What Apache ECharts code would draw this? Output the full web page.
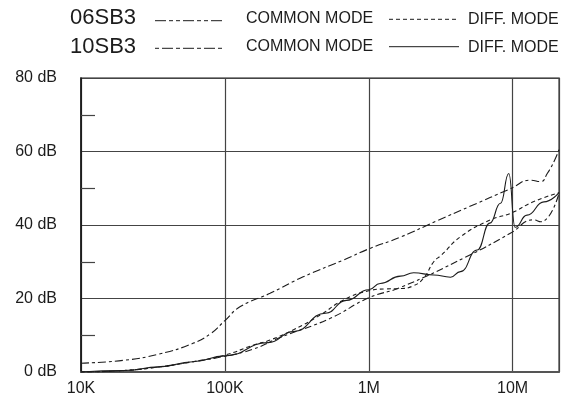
<!DOCTYPE html>
<html><head><meta charset="utf-8">
<script src="https://cdn.jsdelivr.net/npm/echarts@6/dist/echarts.min.js"></script>
<style>html,body{margin:0;padding:0;background:#fff}#c{width:575px;height:400px}</style>
</head><body><div id="c"></div>
<script>
// ---- tick labels ----
const xTickValues = [1e4, 1e5, 1e6, 1e7];
const xTickLabels = ['10K', '100K', '1M', '10M'];
const yMin = 0, yMax = 80, yStep = 20;

// ---- 06SB3 common mode ----
const cm06Freq = [1e4, 2e4, 3.5e4, 6e4, 8e4, 1e5, 1.28e5, 2.06e5, 3.5e5, 6.7e5, 1e6, 1.66e6, 3e6, 5e6, 9.7e6, 1.33e7, 1.57e7, 1.74e7, 1.95e7, 2.1e7];
const cm06dB   = [2.4, 3.2, 4.9, 7.8, 10.5, 14.0, 17.8, 21.4, 25.9, 30.5, 33.5, 36.7, 41.2, 45.0, 49.9, 52.2, 51.8, 54.0, 57.5, 60.5];

// ---- 06SB3 differential mode ----
const dm06Freq = [1e4, 2e4, 3.5e4, 6e4, 1e5, 1.57e5, 2.06e5, 3e5, 4.6e5, 6.67e5, 1e6, 1.3e6, 1.66e6, 2e6, 2.4e6, 2.83e6, 3.2e6, 4.34e6, 7e6, 9.7e6, 1.39e7, 2.1e7];
const dm06dB   = [0, 0.4, 1.4, 2.8, 4.6, 7.3, 8.7, 11.5, 15.5, 19.6, 22.1, 22.6, 22.7, 23.3, 25.5, 30.0, 31.8, 36.8, 41.4, 43.2, 46.3, 48.8];

// ---- 10SB3 common mode ----
const cm10Freq = [1e4, 2e4, 3.5e4, 6e4, 1e5, 1.57e5, 2.42e5, 5.4e5, 1e6, 1.66e6, 4.8e6, 9.7e6, 1.39e7, 1.57e7, 2.1e7];
const cm10dB   = [0, 0.4, 1.4, 2.8, 4.3, 6.2, 9.4, 14.6, 20.2, 23.0, 31.4, 37.8, 41.4, 40.9, 48.6];

// ---- 10SB3 differential mode ----
const dm10Freq = [1e4, 2e4, 3.5e4, 6e4, 1e5, 2e5, 3e5, 5e5, 7e5, 1e6, 1.2e6, 1.66e6, 2.05e6, 2.83e6, 3.7e6, 4.34e6, 5.67e6, 6.94e6, 8.24e6, 9.4e6, 1.04e7, 1.26e7, 1.65e7, 2.1e7];
const dm10dB   = [0, 0.4, 1.4, 2.8, 4.4, 8.0, 11.0, 16.0, 19.5, 22.4, 24.1, 26.1, 27.0, 26.4, 25.8, 27.3, 33.2, 40.5, 45.9, 54.0, 39.4, 42.7, 46.3, 48.8];

const FONT = '"Liberation Sans", Arial, sans-serif';
const INK = '#1c1c1c';
const GRID = '#444';

function zip(f, v) { return f.map((x, i) => [x, v[i]]); }

const chart = echarts.init(document.getElementById('c'), null, { renderer: 'canvas' });

function lineSeries(name, f, v, dash, smooth, mono) {
  const s = {
    name, type: 'line', data: zip(f, v), showSymbol: false, symbol: 'none',
    smooth: smooth,
    lineStyle: { color: INK, width: 1.1, type: dash },
    z: 5, silent: true
  };
  if (mono) s.smoothMonotone = mono;
  return s;
}

const legendRows = [
  { label: '06SB3', y: 19, cmDash: [11, 3, 4, 3, 4, 3], dmDash: [4, 3], cmY: 20.7, dmY: 19.3, cmTextY: 20, dmTextY: 21 },
  { label: '10SB3', y: 47.5, cmDash: [4, 3, 11, 3], dmDash: null, cmY: 48.3, dmY: 46.7, cmTextY: 47.5, dmTextY: 49 }
];
const graphics = [];
legendRows.forEach(r => {
  graphics.push({ type: 'text', left: 70, top: r.y - 12, style: { text: r.label, font: '22px ' + FONT, fill: INK } });
  graphics.push({ type: 'line', shape: { x1: 155, y1: r.cmY, x2: 224, y2: r.cmY }, style: { stroke: INK, lineWidth: 1, lineDash: r.cmDash } });
  graphics.push({ type: 'text', left: 246, top: r.cmTextY - 9, style: { text: 'COMMON MODE', font: '16px ' + FONT, fill: INK } });
  graphics.push({ type: 'line', shape: { x1: 389, y1: r.dmY, x2: 459, y2: r.dmY }, style: { stroke: INK, lineWidth: 1, lineDash: r.dmDash } });
  graphics.push({ type: 'text', left: 468, top: r.dmTextY - 9, style: { text: 'DIFF. MODE', font: '16px ' + FONT, fill: INK } });
});

chart.setOption({
  animation: false,
  backgroundColor: '#fff',
  grid: { left: 81, right: 16, top: 78, bottom: 28, show: true, borderColor: '#666', borderWidth: 1.5, backgroundColor: 'transparent' },
  xAxis: {
    type: 'log', logBase: 10, min: 1e4, max: 2.1e7,
    axisLine: { show: true, lineStyle: { color: '#555', width: 2 } },
    axisTick: { show: false },
    minorTick: { show: false },
    splitLine: { show: true, lineStyle: { color: GRID, width: 1.2 } },
    axisLabel: {
      fontFamily: FONT, fontSize: 16, color: INK, margin: 9,
      showMinLabel: true, showMaxLabel: true, hideOverlap: false,
      formatter: function (val) {
        for (let i = 0; i < xTickValues.length; i++) {
          if (Math.abs(val - xTickValues[i]) / xTickValues[i] < 1e-6) return xTickLabels[i];
        }
        return '';
      }
    }
  },
  yAxis: {
    type: 'value', min: yMin, max: yMax, interval: yStep,
    axisLine: { show: true, lineStyle: { color: '#111', width: 1.5 } },
    axisTick: { show: false, inside: true },
    minorTick: { show: true, splitNumber: 2, length: 14, lineStyle: { color: '#444', width: 1.2 } },
    minorSplitLine: { show: false },
    splitLine: { show: true, lineStyle: { color: GRID, width: 1.2 } },
    axisLabel: { fontFamily: FONT, fontSize: 16, color: INK, margin: 24, formatter: v => v + ' dB' }
  },
  series: [
    lineSeries('06SB3 COMMON MODE', cm06Freq, cm06dB, [8, 3, 3, 3], 0.5),
    lineSeries('06SB3 DIFF. MODE', dm06Freq, dm06dB, [4, 3], 0.5),
    lineSeries('10SB3 COMMON MODE', cm10Freq, cm10dB, [3, 3, 7, 3], 0.5),
    lineSeries('10SB3 DIFF. MODE', dm10Freq, dm10dB, 'solid', 0.5, 'x')
  ],
  graphic: { elements: graphics }
});
</script>
</body></html>
